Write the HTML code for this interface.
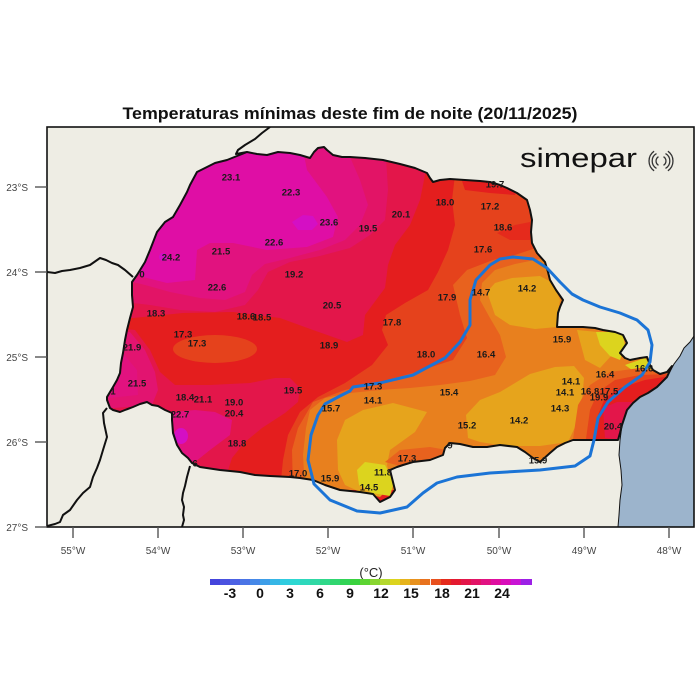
<!DOCTYPE html>
<html><head><meta charset="utf-8"><style>html,body{margin:0;padding:0;background:#fff}svg{display:block}</style></head>
<body>
<svg width="700" height="700" viewBox="0 0 700 700" xmlns="http://www.w3.org/2000/svg" font-family="'Liberation Sans', sans-serif">
<defs>
<clipPath id="st"><polygon points="132,282 137,275 145,262 150,250 157,232 165,222 173,217 180,205 187,192 190,185 197,172 205,168 215,163 227,160 237,156 247,152 257,154 267,155 278,152 290,153 300,155 310,158 314,152 318,148 324,147 327,150 333,155 342,157 350,157 365,158 383,160 400,164 415,168 427,173 430,178 433,182 440,180 450,179 465,180 480,181 490,182 500,185 507,188 517,193 527,200 530,210 532,220 531,232 532,243 537,253 545,262 548,272 550,280 556,290 563,300 560,307 558,313 557,327 570,327 583,327 595,328 603,330 615,332 623,335 627,343 620,353 625,358 630,360 640,358 647,357 650,365 653,370 660,374 667,372 672,366 667,377 657,387 648,393 640,397 633,403 627,410 622,425 620,433 618,440 600,440 585,440 573,440 565,443 557,447 550,453 540,462 533,458 525,452 517,447 500,445 487,447 473,447 460,444 450,443 445,448 443,455 430,460 413,462 403,465 397,467 390,470 392,478 395,490 390,497 380,502 373,494 360,492 340,490 325,485 313,480 300,478 290,477 270,476 255,475 240,472 220,470 200,467 192,463 188,458 182,453 177,445 173,433 172,420 172,413 165,410 158,406 152,405 147,402 140,404 133,407 125,410 120,412 113,410 110,408 107,400 107,397 110,392 113,387 117,380 120,373 121,363 123,353 125,340 127,330 130,318 133,307 132,295"/></clipPath>
<clipPath id="fr"><rect x="47" y="127" width="647" height="400"/></clipPath>
</defs>

<text x="350" y="119" text-anchor="middle" font-size="17" font-weight="bold" fill="#111" textLength="455" lengthAdjust="spacingAndGlyphs">Temperaturas mínimas deste fim de noite (20/11/2025)</text>

<rect x="47" y="127" width="647" height="400" fill="#eeede4"/>
<g clip-path="url(#fr)">
  <polygon points="694,336 690,342 684,348 680,356 674,364 667,377 657,387 648,393 640,397 633,403 627,410 622,425 620,440 619,455 621,470 622,485 620,500 619,515 618,527 694,527" fill="#9cb4cc" stroke="#111" stroke-width="1"/>
  <g fill="none" stroke="#111" stroke-width="2" stroke-linejoin="round">
    <polyline points="270,127 262,133 255,139 245,145 238,150 236,154 247,152"/>
    <polyline points="47,272 55,273 62,271 70,270 80,268 90,265 100,258 106,260 112,263 118,265 125,270 133,277"/>
    <polyline points="47,526 55,524 60,522 63,515 70,510 77,500 83,493 90,487 93,477 97,468 100,460 103,450 107,437 104,423 103,413 107,408"/>
    <polyline points="190,466 187,477 185,486 183,493 182,500 184,507 183,515 184,520 182,527"/>
  </g>

  <g clip-path="url(#st)">
    <rect x="90" y="140" width="620" height="380" fill="#e41e1e"/>
    <polygon fill="#e3164a" points="428,140 425,175 420,200 410,225 395,245 388,265 385,288 365,315 363,335 347,342 313,330 280,318 233,312 183,313 133,318 90,318 90,140"/>
    <polygon fill="#e21466" points="385,140 388,190 385,220 370,235 350,248 320,256 290,262 268,272 258,290 245,305 215,312 180,310 150,305 133,303 90,303 90,140"/>
    <polygon fill="#e1127f" points="350,140 350,157 360,180 368,205 360,225 345,240 320,250 290,258 265,264 252,275 245,292 225,300 200,298 170,292 145,285 133,282 90,282 90,140"/>
    <polygon fill="#df0ea5" points="303,140 303,150 307,170 327,197 338,217 333,237 307,247 267,250 233,243 210,243 197,250 195,280 167,283 143,277 137,273 90,273 90,140"/>
    <polygon fill="#d40fc4" points="292,222 303,215 313,216 318,224 312,230 298,230"/>
    <circle cx="163" cy="257" r="4" fill="#d40fc4"/>
    <polygon fill="#e3164a" points="90,325 135,330 150,350 160,372 175,385 210,385 250,383 275,378 290,378 300,388 298,402 285,413 262,428 245,442 232,458 225,480 90,480"/>
    <polygon fill="#e21470" points="90,330 130,332 145,350 155,372 158,390 152,405 90,410"/>
    <polygon fill="#e1127f" points="90,350 122,352 137,370 138,395 90,400"/>
    <polygon fill="#e1127f" points="172,412 195,410 215,412 232,420 230,435 210,450 195,462 185,460 175,440"/>
    <ellipse cx="181" cy="436" rx="7" ry="8" fill="#d40fc4"/>
    <ellipse cx="215" cy="349" rx="42" ry="14" fill="#e5421c"/>
    <polygon fill="#e5421c" points="455,140 455,175 452,200 455,225 448,250 438,272 428,290 405,303 386,315 382,330 388,345 372,365 345,383 318,397 300,412 288,435 283,460 280,490 700,490 700,140"/>
    <polygon fill="#e41e1e" points="460,175 520,175 515,195 490,193 465,190"/>
    <polygon fill="#e52a1c" points="497,233 515,225 530,222 530,240 510,240"/>
    <polygon fill="#e8621e" points="545,245 515,255 493,260 467,270 453,285 460,315 467,338 453,360 413,373 380,382 345,390 313,402 298,428 292,450 293,490 700,490 700,245"/>
    <polygon fill="#e8801e" points="545,258 515,264 495,270 482,283 480,300 490,318 500,335 506,357 495,375 470,381 440,385 410,388 380,390 350,393 325,398 310,410 306,428 303,455 305,490 700,490 700,258"/>
    <polygon fill="#e6a41c" points="487,292 495,283 512,278 540,276 553,283 560,300 558,313 557,327 535,329 510,325 495,315"/>
    <polygon fill="#e6a41c" points="468,438 466,415 480,400 500,392 530,374 555,367 574,366 584,378 582,400 576,425 568,442 540,446 505,446 480,442"/>
    <polygon fill="#e6a41c" points="337,440 345,420 363,410 393,403 427,412 415,432 390,450 387,465 392,485 380,497 360,492 345,485 338,470"/>
    <polygon fill="#e6a41c" points="577,330 598,332 612,355 600,368 585,360"/>
    <polygon fill="#e8621e" points="385,462 400,450 430,447 447,450 443,462 400,466"/>
    <polygon fill="#dcd41e" points="357,470 365,462 385,465 394,482 390,496 372,493 359,485"/>
    <polygon fill="#dcd41e" points="596,332 622,332 625,345 620,360 610,356 600,345"/>
    <polygon fill="#dcd41e" points="625,365 645,358 655,370 635,372"/>
    <polygon fill="#e8621e" points="572,446 578,405 590,385 610,372 640,368 670,372 670,450"/>
    <polygon fill="#e5421c" points="585,446 590,410 598,392 615,380 640,375 670,374 670,450"/>
    <polygon fill="#e41e1e" points="595,446 598,415 605,398 620,388 645,380 670,376 670,450"/>
    <polygon fill="#e3164a" points="603,408 617,402 635,402 630,430 620,440 605,438"/>
  </g>

  <polygon fill="none" stroke="#111" stroke-width="2" stroke-linejoin="round" points="132,282 137,275 145,262 150,250 157,232 165,222 173,217 180,205 187,192 190,185 197,172 205,168 215,163 227,160 237,156 247,152 257,154 267,155 278,152 290,153 300,155 310,158 314,152 318,148 324,147 327,150 333,155 342,157 350,157 365,158 383,160 400,164 415,168 427,173 430,178 433,182 440,180 450,179 465,180 480,181 490,182 500,185 507,188 517,193 527,200 530,210 532,220 531,232 532,243 537,253 545,262 548,272 550,280 556,290 563,300 560,307 558,313 557,327 570,327 583,327 595,328 603,330 615,332 623,335 627,343 620,353 625,358 630,360 640,358 647,357 650,365 653,370 660,374 667,372 672,366 667,377 657,387 648,393 640,397 633,403 627,410 622,425 620,433 618,440 600,440 585,440 573,440 565,443 557,447 550,453 540,462 533,458 525,452 517,447 500,445 487,447 473,447 460,444 450,443 445,448 443,455 430,460 413,462 403,465 397,467 390,470 392,478 395,490 390,497 380,502 373,494 360,492 340,490 325,485 313,480 300,478 290,477 270,476 255,475 240,472 220,470 200,467 192,463 188,458 182,453 177,445 173,433 172,420 172,413 165,410 158,406 152,405 147,402 140,404 133,407 125,410 120,412 113,410 110,408 107,400 107,397 110,392 113,387 117,380 120,373 121,363 123,353 125,340 127,330 130,318 133,307 132,295"/>

  <polygon fill="none" stroke="#1b74d6" stroke-width="3" stroke-linejoin="round" points="513,257 533,259 547,268 560,282 572,294 583,300 600,307 620,313 637,320 648,330 652,345 650,362 642,375 625,387 608,402 598,418 594,440 590,456 575,466 540,470 490,473 457,477 437,483 423,493 407,507 380,513 357,511 330,500 314,484 308,460 311,435 318,415 325,404 340,396 350,391 353,387 380,383 413,375 445,358 460,342 470,325 470,300 476,280 490,265 500,259"/>

  <g font-size="9.5" font-weight="bold" fill="#1a1a1a" text-anchor="middle">
    <text x="231" y="180.5">23.1</text>
    <text x="291" y="195.5">22.3</text>
    <text x="329" y="225.5">23.6</text>
    <text x="274" y="245.5">22.6</text>
    <text x="221" y="254.5">21.5</text>
    <text x="171" y="260.5">24.2</text>
    <text x="294" y="277.5">19.2</text>
    <text x="142" y="277.5">0</text>
    <text x="217" y="290.5">22.6</text>
    <text x="495" y="187.5">19.7</text>
    <text x="445" y="205.5">18.0</text>
    <text x="490" y="209.5">17.2</text>
    <text x="401" y="217.5">20.1</text>
    <text x="368" y="231.5">19.5</text>
    <text x="503" y="230.5">18.6</text>
    <text x="483" y="252.5">17.6</text>
    <text x="527" y="291.5">14.2</text>
    <text x="481" y="295.5">14.7</text>
    <text x="447" y="300.5">17.9</text>
    <text x="332" y="308.5">20.5</text>
    <text x="156" y="316.5">18.3</text>
    <text x="246" y="319.5">18.6</text>
    <text x="262" y="320.5">18.5</text>
    <text x="392" y="325.5">17.8</text>
    <text x="183" y="337.5">17.3</text>
    <text x="197" y="346.5">17.3</text>
    <text x="132" y="350.5">21.9</text>
    <text x="329" y="348.5">18.9</text>
    <text x="562" y="342.5">15.9</text>
    <text x="426" y="357.5">18.0</text>
    <text x="486" y="357.5">16.4</text>
    <text x="644" y="371.5">16.6</text>
    <text x="605" y="377.5">16.4</text>
    <text x="571" y="384.5">14.1</text>
    <text x="137" y="386.5">21.5</text>
    <text x="373" y="389.5">17.3</text>
    <text x="293" y="393.5">19.5</text>
    <text x="113" y="394.5">1</text>
    <text x="565" y="395.5">14.1</text>
    <text x="590" y="394.5">16.8</text>
    <text x="609" y="394.5">17.5</text>
    <text x="449" y="395.5">15.4</text>
    <text x="185" y="400.5">18.4</text>
    <text x="203" y="402.5">21.1</text>
    <text x="599" y="400.5">19.9</text>
    <text x="373" y="403.5">14.1</text>
    <text x="234" y="405.5">19.0</text>
    <text x="331" y="411.5">15.7</text>
    <text x="560" y="411.5">14.3</text>
    <text x="234" y="416.5">20.4</text>
    <text x="180" y="417.5">22.7</text>
    <text x="519" y="423.5">14.2</text>
    <text x="467" y="428.5">15.2</text>
    <text x="613" y="429.5">20.4</text>
    <text x="237" y="446.5">18.8</text>
    <text x="450" y="448.5">9</text>
    <text x="407" y="461.5">17.3</text>
    <text x="538" y="463.5">15.9</text>
    <text x="195" y="466.5">6</text>
    <text x="383" y="475.5">11.8</text>
    <text x="298" y="476.5">17.0</text>
    <text x="330" y="481.5">15.9</text>
    <text x="369" y="490.5">14.5</text>
  </g>
</g>
<rect x="47" y="127" width="647" height="400" fill="none" stroke="#111" stroke-width="1.6"/>

<text x="520" y="167" font-size="27" fill="#111" textLength="117" lengthAdjust="spacingAndGlyphs">simepar</text>
<g fill="none" stroke="#333" stroke-width="1.3">
  <path d="M658.5,156.7 A5,5 0 0 0 658.5,165.3 M663.5,156.7 A5,5 0 0 1 663.5,165.3"/>
  <path d="M656.5,153.6 A8.5,8.5 0 0 0 656.5,168.4 M665.5,153.6 A8.5,8.5 0 0 1 665.5,168.4"/>
  <path d="M654.1,151.2 A12,12 0 0 0 654.1,170.8 M667.9,151.2 A12,12 0 0 1 667.9,170.8"/>
</g>

<g stroke="#555" stroke-width="1.4">
  <line x1="35" y1="187" x2="47" y2="187"/>
  <line x1="35" y1="272" x2="47" y2="272"/>
  <line x1="35" y1="357" x2="47" y2="357"/>
  <line x1="35" y1="442" x2="47" y2="442"/>
  <line x1="35" y1="527" x2="47" y2="527"/>
  <line x1="73" y1="527" x2="73" y2="538"/>
  <line x1="158" y1="527" x2="158" y2="538"/>
  <line x1="243" y1="527" x2="243" y2="538"/>
  <line x1="328" y1="527" x2="328" y2="538"/>
  <line x1="413" y1="527" x2="413" y2="538"/>
  <line x1="499" y1="527" x2="499" y2="538"/>
  <line x1="584" y1="527" x2="584" y2="538"/>
  <line x1="669" y1="527" x2="669" y2="538"/>
</g>
<g font-size="10" fill="#444">
  <g text-anchor="end">
    <text x="28" y="191">23°S</text>
    <text x="28" y="276">24°S</text>
    <text x="28" y="361">25°S</text>
    <text x="28" y="446">26°S</text>
    <text x="28" y="531">27°S</text>
  </g>
  <g text-anchor="middle">
    <text x="73" y="554">55°W</text>
    <text x="158" y="554">54°W</text>
    <text x="243" y="554">53°W</text>
    <text x="328" y="554">52°W</text>
    <text x="413" y="554">51°W</text>
    <text x="499" y="554">50°W</text>
    <text x="584" y="554">49°W</text>
    <text x="669" y="554">48°W</text>
  </g>
</g>

<text x="371" y="577" font-size="13" fill="#222" text-anchor="middle">(°C)</text>
<g>
  <rect x="210" y="579" width="10.1" height="6" fill="#4444dc"/>
  <rect x="220" y="579" width="10.1" height="6" fill="#4a52e0"/>
  <rect x="230" y="579" width="10.1" height="6" fill="#4c62e4"/>
  <rect x="240" y="579" width="10.1" height="6" fill="#4a74e6"/>
  <rect x="250" y="579" width="10.1" height="6" fill="#4688e8"/>
  <rect x="260" y="579" width="10.1" height="6" fill="#3e9ee8"/>
  <rect x="270" y="579" width="10.1" height="6" fill="#36b6e6"/>
  <rect x="280" y="579" width="10.1" height="6" fill="#30cce0"/>
  <rect x="290" y="579" width="10.1" height="6" fill="#2ed8d2"/>
  <rect x="300" y="579" width="10.1" height="6" fill="#2ed8bc"/>
  <rect x="310" y="579" width="10.1" height="6" fill="#30d8a4"/>
  <rect x="320" y="579" width="10.1" height="6" fill="#30d88a"/>
  <rect x="330" y="579" width="10.1" height="6" fill="#30d670"/>
  <rect x="340" y="579" width="10.1" height="6" fill="#32d456"/>
  <rect x="350" y="579" width="10.1" height="6" fill="#3ad23e"/>
  <rect x="360" y="579" width="10.1" height="6" fill="#5cd432"/>
  <rect x="370" y="579" width="10.1" height="6" fill="#88d630"/>
  <rect x="380" y="579" width="10.1" height="6" fill="#b4d82e"/>
  <rect x="390" y="579" width="10.1" height="6" fill="#dcd41e"/>
  <rect x="400" y="579" width="10.1" height="6" fill="#e6b41c"/>
  <rect x="410" y="579" width="10.1" height="6" fill="#e8921e"/>
  <rect x="420" y="579" width="10.1" height="6" fill="#e8721e"/>
  <rect x="431" y="579" width="10.1" height="6" fill="#e8501e"/>
  <rect x="441" y="579" width="10.1" height="6" fill="#e52a1c"/>
  <rect x="451" y="579" width="10.1" height="6" fill="#e41a30"/>
  <rect x="461" y="579" width="10.1" height="6" fill="#e3164a"/>
  <rect x="471" y="579" width="10.1" height="6" fill="#e21466"/>
  <rect x="481" y="579" width="10.1" height="6" fill="#e11282"/>
  <rect x="491" y="579" width="10.1" height="6" fill="#df0ea0"/>
  <rect x="501" y="579" width="10.1" height="6" fill="#d80eba"/>
  <rect x="511" y="579" width="10.1" height="6" fill="#c814d4"/>
  <rect x="521" y="579" width="11" height="6" fill="#9c20e6"/>
</g>
<g font-size="14" font-weight="bold" fill="#111" text-anchor="middle">
  <text x="230" y="598">-3</text>
  <text x="260" y="598">0</text>
  <text x="290" y="598">3</text>
  <text x="320" y="598">6</text>
  <text x="350" y="598">9</text>
  <text x="381" y="598">12</text>
  <text x="411" y="598">15</text>
  <text x="442" y="598">18</text>
  <text x="472" y="598">21</text>
  <text x="502" y="598">24</text>
</g>
</svg>
</body></html>
